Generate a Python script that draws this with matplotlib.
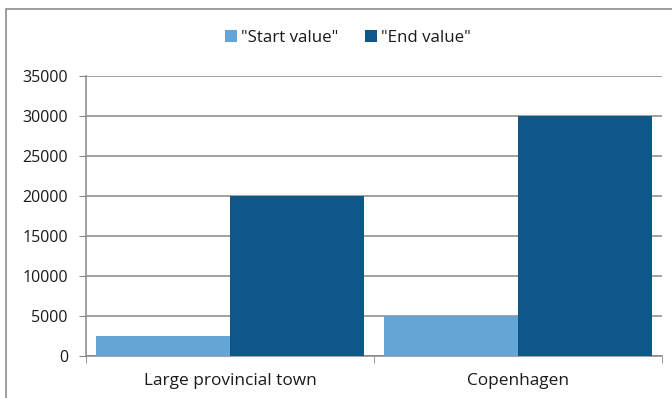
import matplotlib.pyplot as plt
import numpy as np
from matplotlib.patches import Rectangle

categories = ['Large provincial town', 'Copenhagen']
start_value = [2500, 5000]
end_value = [20000, 30000]
series_names = ['"Start value"', '"End value"']

light = '#65a5d5'
dark = '#0e5889'
grey = '#868686'
text_col = '#1a1a1a'

plt.rcParams['font.family'] = ['Open Sans', 'DejaVu Sans']

fig = plt.figure(figsize=(6.72, 3.98), dpi=100)
fig.patches.append(Rectangle((6 / 672, -0.1), 1.2, 1 - 9 / 398 + 0.1,
                             transform=fig.transFigure, fill=False,
                             edgecolor='#8c8c8c', linewidth=1.2))

ax = fig.add_axes([86 / 672, 42 / 398, 576 / 672, 280 / 398])

x = np.arange(len(categories))
w = 134 / 288
ax.bar(x - w / 2, start_value, width=w, color=light, label=series_names[0], zorder=3)
ax.bar(x + w / 2, end_value, width=w, color=dark, label=series_names[1], zorder=3)

ax.set_xlim(-0.5, len(categories) - 0.5)
ax.set_ylim(0, 35000)
ax.set_yticks(range(0, 35001, 5000))
ax.yaxis.grid(True, color=grey, linewidth=1.1, zorder=0)
ax.tick_params(axis='y', length=5, color=grey, labelsize=11.5, pad=8, labelcolor=text_col)

ax.set_xticks(x)
ax.set_xticklabels(categories)
ax.set_xticks(np.arange(-0.5, len(categories)), minor=True)
ax.tick_params(axis='x', which='major', length=0, labelsize=12.4, pad=12, labelcolor=text_col)
ax.tick_params(axis='x', which='minor', length=5, color=grey)

for side in ['top', 'right']:
    ax.spines[side].set_visible(False)
for side in ['left', 'bottom']:
    ax.spines[side].set_color(grey)
    ax.spines[side].set_linewidth(1.1)

leg = fig.legend(loc='center', bbox_to_anchor=(348 / 672, 1 - 38 / 398), ncol=2,
                 frameon=False, fontsize=12.2, handlelength=0.7, handleheight=0.7,
                 handletextpad=0.25, columnspacing=1.6)
for t in leg.get_texts():
    t.set_color(text_col)

fig.savefig('out.png', dpi=100)
